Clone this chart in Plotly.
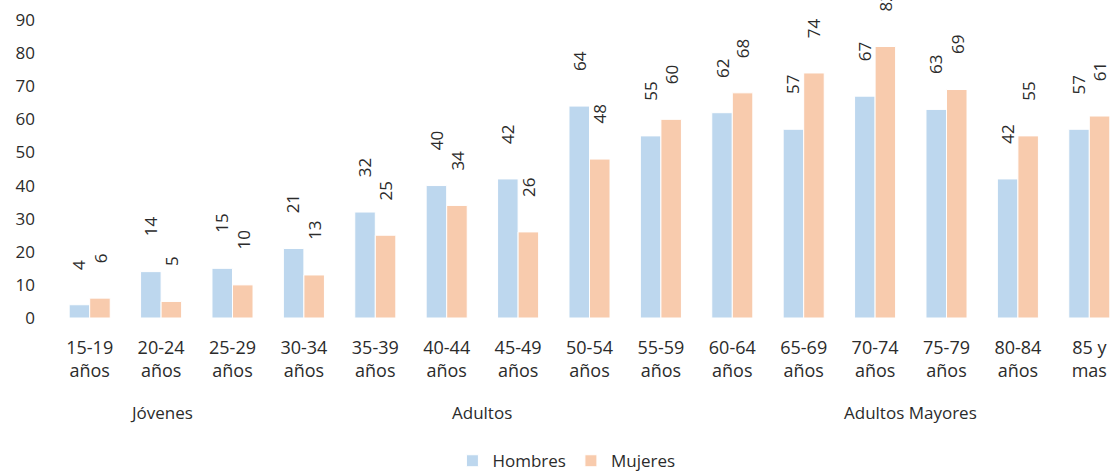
import plotly.graph_objects as go

categories = ["15-19<br>años", "20-24<br>años", "25-29<br>años", "30-34<br>años", "35-39<br>años",
              "40-44<br>años", "45-49<br>años", "50-54<br>años", "55-59<br>años", "60-64<br>años",
              "65-69<br>años", "70-74<br>años", "75-79<br>años", "80-84<br>años", "85 y<br>mas"]
hombres = [4, 14, 15, 21, 32, 40, 42, 64, 55, 62, 57, 67, 63, 42, 57]
mujeres = [6, 5, 10, 13, 25, 34, 26, 48, 60, 68, 74, 82, 69, 55, 61]
groups = [("Jóvenes", 0, 2), ("Adultos", 3, 8), ("Adultos Mayores", 9, 14)]

FONT = "'Open Sans', Lato, sans-serif"
TXT = "#2b2b2b"
BLUE = "#BDD7EE"
ORANGE = "#F8CBAD"
FS = 17

fig = go.Figure()
fig.add_bar(x=categories, y=hombres, name="Hombres", marker=dict(color=BLUE, line=dict(color="white", width=1)))
fig.add_bar(x=categories, y=mujeres, name="Mujeres", marker=dict(color=ORANGE, line=dict(color="white", width=1)))

annotations = []
for series, shift in ((hombres, -10.5), (mujeres, 10.5)):
    for c, v in zip(categories, series):
        annotations.append(dict(x=c, y=v, xref="x", yref="y", text=str(v), textangle=-90,
                                showarrow=False, xshift=shift, yshift=33, yanchor="bottom",
                                xanchor="center", font=dict(family=FONT, size=FS, color=TXT)))
for name, a, b in groups:
    annotations.append(dict(x=(a + b) / 2, y=0, xref="x", yref="paper", text=name, showarrow=False,
                            yshift=-94, yanchor="middle", xanchor="center",
                            font=dict(family=FONT, size=FS, color=TXT)))

fig.update_layout(
    width=1115, height=474,
    margin=dict(l=54, r=0, t=20, b=156, autoexpand=False),
    paper_bgcolor="white", plot_bgcolor="white",
    barmode="group", bargap=0.425, bargroupgap=0,
    font=dict(family=FONT, size=FS, color=TXT),
    showlegend=True,
    legend=dict(orientation="h", xref="container", yref="container", x=0.508, y=0.027,
                xanchor="center", yanchor="middle", font=dict(size=FS, color=TXT),
                itemwidth=30, tracegroupgap=0),
    annotations=annotations,
)
fig.update_xaxes(range=[-0.5, 14.36], showgrid=False, showline=False, ticks="",
                 tickfont=dict(size=18, color=TXT), ticklabelstandoff=17)
fig.update_yaxes(range=[0, 90], dtick=10, showgrid=False, showline=False, zeroline=False, ticks="",
                 tickfont=dict(size=FS, color=TXT), ticklabelstandoff=18)
fig.write_html("out.html", config={"displayModeBar": False},
               post_script="document.body.style.margin='0';document.body.style.overflow='hidden';")
